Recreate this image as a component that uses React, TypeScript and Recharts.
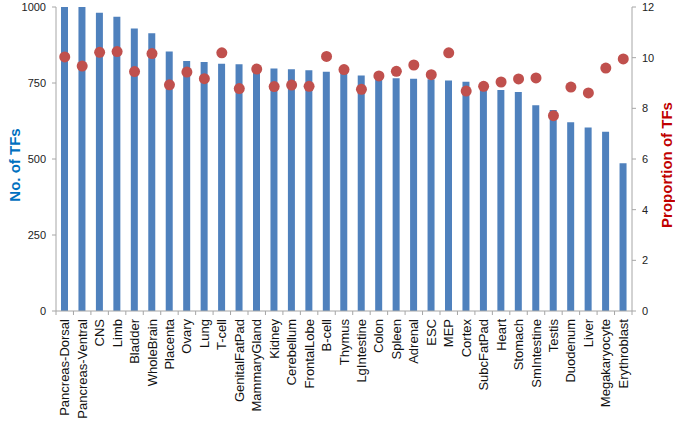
import { ComposedChart, Bar, Line, XAxis, YAxis } from 'recharts'

const tissues = [
    'Pancreas-Dorsal', 'Pancreas-Ventral', 'CNS', 'Limb', 'Bladder', 'WholeBrain', 'Placenta', 'Ovary',
    'Lung', 'T-cell', 'GenitalFatPad', 'MammaryGland', 'Kidney', 'Cerebellum', 'FrontalLobe', 'B-cell',
    'Thymus', 'LgIntestine', 'Colon', 'Spleen', 'Adrenal', 'ESC', 'MEP', 'Cortex', 'SubcFatPad', 'Heart',
    'Stomach', 'SmIntestine', 'Testis', 'Duodenum', 'Liver', 'Megakaryocyte', 'Erythroblast'
]

const tfCounts = [
    1000, 1000, 981, 968, 929, 914, 854, 822, 819, 813, 812, 803, 798, 795, 792, 787,
    785, 775, 768, 766, 764, 762, 758, 754, 746, 727, 720, 677, 661, 621, 604, 590, 486
]

const tfProportion = [
    10.03, 9.67, 10.21, 10.24, 9.45, 10.16, 8.93, 9.43, 9.17, 10.19, 8.78, 9.55, 8.86, 8.92, 8.87, 10.05,
    9.53, 8.75, 9.28, 9.46, 9.71, 9.33, 10.19, 8.68, 8.87, 9.04, 9.16, 9.2, 7.71, 8.84, 8.61, 9.59, 9.95
]

const countTicks = [0, 250, 500, 750, 1000]
const proportionTicks = [0, 2, 4, 6, 8, 10, 12]

const data = tissues.map((name, i) => ({ name, count: tfCounts[i], prop: tfProportion[i] }))

const axisGrey = '#A6A6A6'
const band = 576 / tissues.length

const TissueTick = (props) => {
    const { x, y, payload, index } = props
    const last = index === tissues.length - 1
    return (
        <g>
            <line x1={x - band / 2} x2={x - band / 2} y1={y - 8} y2={y - 4} stroke={axisGrey} />
            {last && <line x1={x + band / 2} x2={x + band / 2} y1={y - 8} y2={y - 4} stroke={axisGrey} />}
            <text
                transform={`translate(${x},${y}) rotate(-90)`}
                textAnchor="end"
                dy="0.35em"
                fontSize={13}
                fill="#111"
                fontFamily="Arial, 'Liberation Sans', sans-serif"
            >
                {payload.value}
            </text>
        </g>
    )
}

const AxisTitle = ({ viewBox, text, color, dx }) => {
    const cx = viewBox.x + dx
    const cy = viewBox.y + viewBox.height / 2 + 6
    return (
        <text
            transform={`translate(${cx},${cy}) rotate(-90)`}
            textAnchor="middle"
            dy="0.35em"
            fontSize={15}
            fontWeight="bold"
            fill={color}
            fontFamily="Arial, 'Liberation Sans', sans-serif"
        >
            {text}
        </text>
    )
}

export default function App() {
    const tickStyle = { fontSize: 11, fill: '#222', fontFamily: "Arial, 'Liberation Sans', sans-serif" }
    return (
        <div style={{ position: 'absolute', left: 0, top: 0, background: '#fff' }}>
            <ComposedChart
                width={675}
                height={426}
                data={data}
                margin={{ top: 7, right: 0, bottom: 0, left: 0 }}
                barCategoryGap={0}
            >
                <XAxis
                    dataKey="name"
                    interval={0}
                    height={115}
                    tickLine={false}
                    tickSize={4}
                    tickMargin={4}
                    stroke={axisGrey}
                    tick={<TissueTick />}
                />
                <YAxis
                    yAxisId="left"
                    width={56}
                    domain={[0, 1000]}
                    ticks={countTicks}
                    tickSize={4}
                    tickMargin={6}
                    stroke={axisGrey}
                    tick={tickStyle}
                    label={{ content: (p) => <AxisTitle {...p} text="No. of TFs" color="#0070C0" dx={15} /> }}
                />
                <YAxis
                    yAxisId="right"
                    orientation="right"
                    width={43}
                    domain={[0, 12]}
                    ticks={proportionTicks}
                    tickSize={4}
                    tickMargin={6}
                    stroke={axisGrey}
                    tick={tickStyle}
                    label={{ content: (p) => <AxisTitle {...p} text="Proportion of TFs" color="#C00000" dx={35} /> }}
                />
                <Bar yAxisId="left" dataKey="count" fill="#4F81BD" barSize={7} isAnimationActive={false} />
                <Line
                    yAxisId="right"
                    dataKey="prop"
                    stroke="none"
                    dot={{ r: 5.5, fill: '#C0504D', stroke: 'none' }}
                    activeDot={false}
                    isAnimationActive={false}
                />
            </ComposedChart>
        </div>
    )
}
